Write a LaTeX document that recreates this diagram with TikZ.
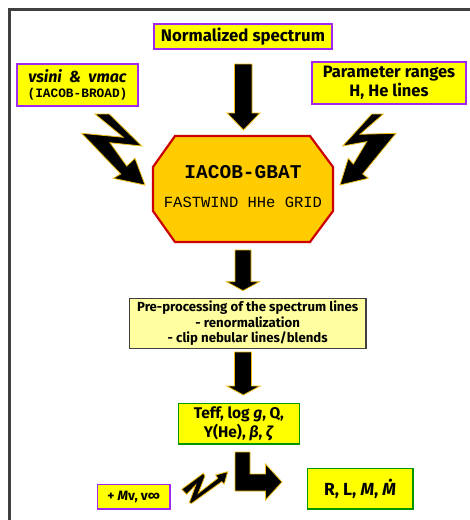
\documentclass[tikz,border=0pt]{standalone}
\usepackage{fontspec}
\setmainfont{Fira Sans}
\setmonofont{Liberation Mono}
\definecolor{pbord}{RGB}{160,40,240}
\definecolor{ybox}{RGB}{255,255,0}
\definecolor{gbord}{RGB}{0,150,0}
\definecolor{lyel}{RGB}{255,255,160}
\definecolor{gold}{RGB}{255,204,0}
\definecolor{rbord}{RGB}{204,0,0}
\definecolor{aout}{RGB}{240,190,20}
\definecolor{frame}{RGB}{64,64,64}
\tikzset{
  box/.style={draw, fill=ybox, line width=1.6pt, inner sep=0pt, align=center, font=\bfseries},
  pbox/.style={box, draw=pbord},
  gbox/.style={box, draw=gbord},
  prebox/.style={draw=frame, fill=lyel, line width=1.3pt, inner sep=0pt, align=center, font=\bfseries},
  blk/.style={fill=black, draw=aout, line width=0.8pt, line join=miter},
}
\begin{document}
\begin{tikzpicture}[x=1pt,y=-1pt]
\useasboundingbox (0,0) rectangle (470,520);
\fill[white] (0,0) rectangle (470,520);
% frame
\draw[frame, line width=3pt] (9,530) -- (9,9) -- (480,9);

% boxes
\node[pbox, minimum width=178pt, minimum height=25pt, font=\bfseries\fontsize{16.8}{18}\selectfont] (spec) at (243,36.5) {Normalized spectrum};
\node[pbox, minimum width=121pt, minimum height=42pt, inner ysep=0pt] (vs) at (77.5,85)
  {{\fontsize{16}{17}\selectfont\itshape vsini \ \&\ \ vmac}\\[3pt]{\ttfamily\fontsize{12.8}{14}\selectfont(IACOB-BROAD)}};
\node[pbox, minimum width=154pt, minimum height=42pt, font=\bfseries\fontsize{16.5}{19}\selectfont] (par) at (389,83)
  {Parameter ranges\\H, He lines};

% octagon
\fill[gold, draw=rbord, line width=2.2pt, line join=miter]
  (175,136) -- (310,136) -- (333,167) -- (333,211) -- (310,242) -- (175,242) -- (153,211) -- (153,167) -- cycle;
\node[font=\ttfamily\bfseries\fontsize{19.5}{22}\selectfont, inner sep=0pt] (gbat) at (243,172) {IACOB-GBAT};
\node[font=\ttfamily\fontsize{15.5}{18}\selectfont, inner sep=0pt] (grid) at (243,202) {FASTWIND HHe GRID};

\node[prebox, minimum width=236.7pt, minimum height=50pt, font=\bfseries\fontsize{13.2}{15.3}\selectfont] (pre) at (247.7,323.3)
  {Pre-processing of the spectrum lines\\- renormalization\\- clip nebular lines/blends};

\node[gbox, minimum width=121pt, minimum height=40.7pt, font=\bfseries\fontsize{15.5}{19.5}\selectfont] (teff) at (238.8,423.7)
  {Teff, log \textit{g}, Q,\\Y(He), \textit{β}, \textit{ζ}};
\node[gbox, minimum width=105.4pt, minimum height=40.7pt, font=\bfseries\fontsize{17.5}{19}\selectfont] (rlm) at (360,488.7)
  {R, L, \textit{M}, \textit{Ṁ}};
\node[pbox, minimum width=72.7pt, minimum height=24.7pt, font=\bfseries\fontsize{13.5}{14}\selectfont] (mv) at (133.7,496.7)
  {+ \textit{M}v, v∞};

% block arrows down
\draw[blk] (234.5,64) -- (252,64) -- (252,113) -- (260,113) -- (243.5,130) -- (227,113) -- (234.5,113) -- cycle;
\draw[blk] (235,250) -- (251,250) -- (251,281.7) -- (259.5,281.7) -- (243,290.7) -- (226.5,281.7) -- (235,281.7) -- cycle;
\draw[blk] (234.5,352) -- (251.5,352) -- (251.5,386) -- (260,386) -- (243.3,395) -- (226.7,386) -- (234.5,386) -- cycle;

% L-arrow
\draw[blk] (235,452) -- (250,452) -- (250,474) -- (265.5,474) -- (265.5,464) -- (282,482) -- (265.5,500) -- (265.5,491) -- (235,491) -- cycle;

% lightning bolts
\draw[blk] (95,114) -- (109.3,114) -- (141.7,146) -- (110,142.7) -- (126.7,166) -- (135,158.3) -- (145,185) -- (113.3,178.3) -- (120.7,174) -- (81.7,133.3) -- (123.3,137.3) -- cycle;
\draw[blk] (371.7,114) -- (383.3,114) -- (360,134.3) -- (396,133.3) -- (362.7,174) -- (368.3,178.3) -- (340,185) -- (348.3,158.3) -- (353.3,164) -- (366.7,141.7) -- (342.7,146) -- cycle;
\draw[blk] (181.7,489.3) -- (203.3,473.3) -- (205,476) -- (198.3,493.3) -- (217.7,478.3) -- (215.7,475) -- (227.7,471.7) -- (224.3,484) -- (221.7,481.7) -- (191.7,503.3) -- (189.3,502.7) -- (195.7,485) -- (186.7,494.3) -- cycle;
\end{tikzpicture}
\end{document}
